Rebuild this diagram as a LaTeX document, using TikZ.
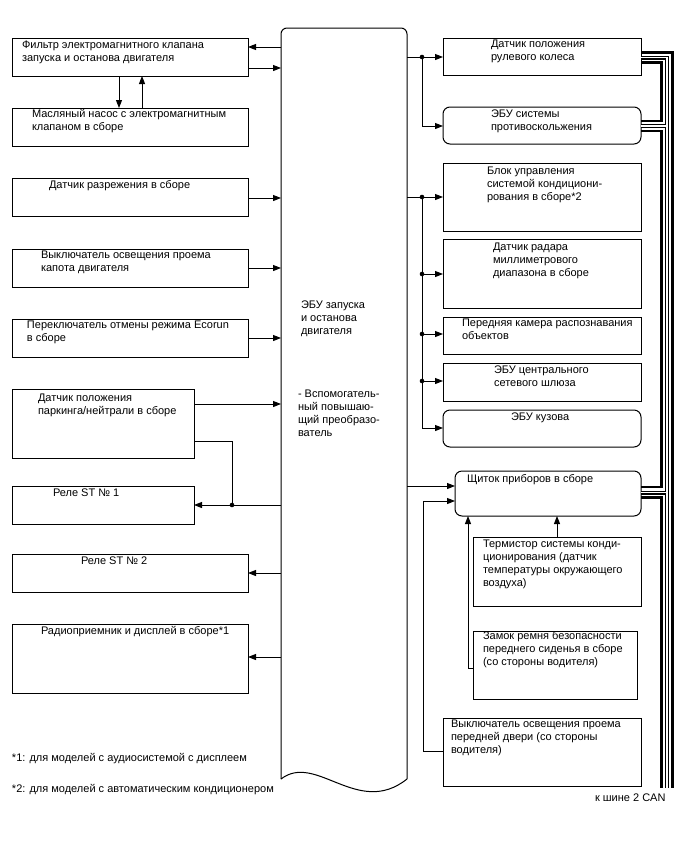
\documentclass[tikz,border=0pt]{standalone}
\usepackage{fontspec}
\setmainfont{Liberation Sans}
\usetikzlibrary{arrows.meta}
\tikzset{
  bx/.style={draw, line width=1pt, inner sep=0pt, outer sep=0pt},
  rbx/.style={bx, rounded corners=7pt},
  txt/.style={anchor=north west, inner sep=0pt, outer sep=0pt, align=left,
    font=\fontsize{11}{13}\selectfont, execute at begin node=\strut},
  wire/.style={line width=1pt},
  arr/.style={wire, -{Triangle[length=8pt,width=6pt]}},
  jdot/.style={circle, fill, inner sep=0pt, minimum size=4.6pt},
  canthick/.style={line width=2.6pt, line join=miter},
  canouter/.style={line width=4pt, line join=miter},
  caninner/.style={line width=1.8pt, white, line join=miter},
}
\newcommand\mkbox[6][bx]{\node[#1, minimum width={#5-#3}, minimum height={#6-#4}] (#2) at ({(#3+#5)/2},{(#4+#6)/2}) {};}
\newcommand\mktxt[4]{\node[txt] (#1) at (#2,{#3-1.2}) {#4};}
\begin{document}
\begin{tikzpicture}[x=1pt,y=-1pt]
\useasboundingbox[fill=white] (0,0) rectangle (688,852);

% ---------- central ECU ----------
\node[inner sep=0pt, outer sep=0pt, minimum width=126, minimum height=751] (ecu) at (344,403.5) {};
\draw[wire, rounded corners=6pt] (ecu.south west) -- (ecu.north west) -- (ecu.north east) -- (ecu.south east);
\draw[wire] (ecu.south west) .. controls (316,752) and (358,818) .. (ecu.south east);
\mktxt{ecut1}{301}{302}{ЭБУ запуска\\и останова\\двигателя}
\mktxt{ecut2}{298}{391}{- Вспомогатель-\\ный повышаю-\\щий преобразо-\\ватель}

% ---------- left boxes ----------
\mkbox{filt}{12}{38}{248}{76}
\mktxt{filtt}{22}{42}{Фильтр электромагнитного клапана\\запуска и останова двигателя}
\mkbox{pump}{12}{108}{248}{146}
\mktxt{pumpt}{32}{111}{Масляный насос с электромагнитным\\клапаном в сборе}
\mkbox{vac}{12}{178}{248}{216}
\mktxt{vact}{49}{181}{Датчик разрежения в сборе}
\mkbox{hood}{12}{249}{248}{287}
\mktxt{hoodt}{41}{252}{Выключатель освещения проема\\капота двигателя}
\mkbox{eco}{12}{319}{248}{357}
\mktxt{ecot}{27}{322}{Переключатель отмены режима Ecorun\\в сборе}
\mkbox{park}{12}{389}{194}{458}
\mktxt{parkt}{38}{395}{Датчик положения\\паркинга/нейтрали в сборе}
\mkbox{rel1}{12}{486}{194}{524}
\mktxt{rel1t}{53}{489}{Реле ST № 1}
\mkbox{rel2}{12}{554}{248}{592}
\mktxt{rel2t}{81}{557}{Реле ST № 2}
\mkbox{radio}{12}{624}{248}{693}
\mktxt{radiot}{41}{627}{Радиоприемник и дисплей в сборе*1}

% ---------- right boxes ----------
\mkbox{steer}{443}{38}{641}{75}
\mktxt{steert}{491}{41}{Датчик положения\\рулевого колеса}
\mkbox[rbx]{abs}{443}{107}{641}{144}
\mktxt{abst}{491}{111}{ЭБУ системы\\противоскольжения}
\mkbox{ac}{443}{163}{641}{231}
\mktxt{act}{487}{168}{Блок управления\\системой кондициони-\\рования в сборе*2}
\mkbox{radar}{443}{239}{641}{308}
\mktxt{radart}{493}{244}{Датчик радара\\миллиметрового\\диапазона в сборе}
\mkbox{cam}{443}{317}{641}{354}
\mktxt{camt}{462}{320}{Передняя камера распознавания\\объектов}
\mkbox{gw}{443}{363}{641}{401}
\mktxt{gwt}{494}{367}{ЭБУ центрального\\сетевого шлюза}
\mkbox[rbx]{body}{443}{410}{641}{447}
\mktxt{bodyt}{511}{413}{ЭБУ кузова}
\mkbox[rbx]{clu}{455}{471}{641}{516}
\mktxt{clut}{467}{475}{Щиток приборов в сборе}
\mkbox{therm}{473}{537}{641}{606}
\mktxt{thermt}{483}{541}{Термистор системы конди-\\ционирования (датчик\\температуры окружающего\\воздуха)}
\mkbox{belt}{473}{631}{637}{699}
\mktxt{beltt}{483}{633}{Замок ремня безопасности\\переднего сиденья в сборе\\(со стороны водителя)}
\mkbox{door}{443}{718}{641}{786}
\mktxt{doort}{451}{721}{Выключатель освещения проема\\передней двери (со стороны\\водителя)}

% ---------- footnotes ----------
\mktxt{fn1}{12}{754}{*1: для моделей с аудиосистемой с дисплеем}
\mktxt{fn2}{12}{785}{*2: для моделей с автоматическим кондиционером}
\mktxt{cant}{595}{794}{к шине 2 CAN}

% ---------- left connectors ----------
\draw[arr] (ecu.west |- 0,47) -- (filt.east |- 0,47);
\draw[arr] (filt.east |- 0,68) -- (ecu.west |- 0,68);
\draw[arr] (filt.south -| 119,0) -- (pump.north -| 119,0);
\draw[arr] (pump.north -| 142,0) -- (filt.south -| 142,0);
\draw[arr] (vac.east |- 0,198) -- (ecu.west |- 0,198);
\draw[arr] (hood.east |- 0,268) -- (ecu.west |- 0,268);
\draw[arr] (eco.east |- 0,338) -- (ecu.west |- 0,338);
\draw[arr] (park.east |- 0,404) -- (ecu.west |- 0,404);
\node[jdot] (j1) at (232,505) {};
\draw[wire] (park.east |- 0,441) -| (j1.center);
\draw[arr] (ecu.west |- 0,505) -- (rel1.east |- 0,505);
\draw[arr] (ecu.west |- 0,573) -- (rel2.east |- 0,573);
\draw[arr] (ecu.west |- 0,657) -- (radio.east |- 0,657);

% ---------- right connectors ----------
\node[jdot] (j2) at (422,57) {};
\node[jdot] (j3) at (422,197) {};
\node[jdot] (j4) at (422,274) {};
\node[jdot] (j5) at (422,334) {};
\node[jdot] (j6) at (422,381) {};
\draw[arr] (ecu.east |- 0,57) -- (steer.west |- 0,57);
\draw[arr] (j2.center) |- (abs.west |- 0,126);
\draw[arr] (ecu.east |- 0,197) -- (ac.west |- 0,197);
\draw[arr] (j3.center) |- (body.west |- 0,428);
\draw[arr] (j4.center) -- (radar.west |- 0,274);
\draw[arr] (j5.center) -- (cam.west |- 0,334);
\draw[arr] (j6.center) -- (gw.west |- 0,381);
\draw[arr] (ecu.east |- 0,486) -- (clu.west |- 0,486);
\draw[arr] (door.west |- 0,751) -| (423,501) -- (clu.west |- 0,501);
\draw[arr] (therm.north -| 557,0) -- (clu.south -| 557,0);
\draw[arr] (belt.west |- 0,668) -| (clu.south -| 468,0);

% ---------- CAN bus ----------
\draw[canthick] (steer.east |- 0,52.5) -- (672.5,52.5) -- (672.5,788);
\draw[canthick] (steer.east |- 0,62.5) -- (661.5,62.5) -- (661.5,121) -- (abs.east |- 0,121);
\draw[canthick] (abs.east |- 0,131) -- (661.5,131) -- (661.5,487) -- (clu.east |- 0,487);
\draw[canthick] (clu.east |- 0,497.5) -- (661.5,497.5) -- (661.5,788);
\draw[canouter] (steer.east |- 0,57.5) -- (667,57.5) -- (667,788);
\draw[canouter] (abs.east |- 0,126) -- (667,126);
\draw[canouter] (clu.east |- 0,492.5) -- (667,492.5);
\draw[caninner] (steer.east |- 0,57.5) -- (667,57.5) -- (667,788);
\draw[caninner] (abs.east |- 0,126) -- (667,126);
\draw[caninner] (clu.east |- 0,492.5) -- (667,492.5);
\end{tikzpicture}
\end{document}
